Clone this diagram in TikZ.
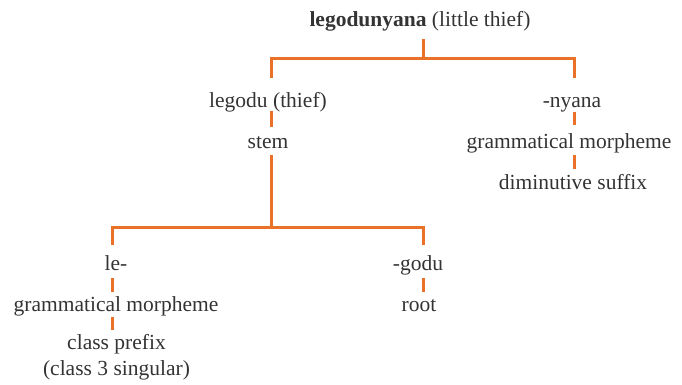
\documentclass[tikz,border=0pt]{standalone}
\usepackage{fontspec}
\setmainfont{Liberation Serif}
\definecolor{txt}{RGB}{51,51,51}
\definecolor{brk}{RGB}{234,114,40}
\begin{document}
\begin{tikzpicture}[x=1pt,y=-1pt,
  lbl/.style={anchor=base,inner sep=0pt,text=txt,font=\fontsize{21.5}{26}\selectfont},
  conn/.style={draw=brk,line width=3pt}]
\useasboundingbox (0,0) rectangle (682,385);
% column line positions
\coordinate (cT) at (423,0);
\coordinate (cA) at (271,0);
\coordinate (cN) at (574,0);
\coordinate (cL) at (112,0);
\coordinate (cG) at (423,0);
\coordinate (b1) at (423,59);
\coordinate (b2) at (271,227.5);
% labels
\node[lbl] (top) at (420,27) {\textbf{legodunyana} (little thief)};
\node[lbl] (legodu) at (268,107.5) {legodu (thief)};
\node[lbl] (stem) at (268,148.3) {stem};
\node[lbl] (nyana) at (572,107.5) {-nyana};
\node[lbl] (gmR) at (569,148.3) {grammatical morpheme};
\node[lbl] (dim) at (573,189) {diminutive suffix};
\node[lbl] (le) at (116,270) {le-};
\node[lbl] (gmL) at (116,311.7) {grammatical morpheme};
\node[lbl] (cp) at (116.5,349.7) {class prefix};
\node[lbl] (c3) at (116.5,375.5) {(class 3 singular)};
\node[lbl] (godu) at (418,270) {-godu};
\node[lbl] (root) at (419,311.7) {root};
% connectors
\draw[conn] ([yshift=-12.5pt]top.base -| cT) -- (b1);
\draw[conn] ([yshift=29.5pt]legodu.base -| cA) |- (b1) -| ([yshift=29pt]nyana.base -| cN);
\draw[conn] ([yshift=-4pt]legodu.base -| cA) -- ([yshift=21.5pt]stem.base -| cA);
\draw[conn] ([yshift=-6.5pt]stem.base -| cA) -- (b2);
\draw[conn] ([yshift=-4.5pt]nyana.base -| cN) -- ([yshift=23pt]gmR.base -| cN);
\draw[conn] ([yshift=-7pt]gmR.base -| cN) -- ([yshift=20.5pt]dim.base -| cN);
\draw[conn] ([yshift=25pt]le.base -| cL) |- (b2) -| ([yshift=25pt]godu.base -| cG);
\draw[conn] ([yshift=-8.3pt]le.base -| cL) -- ([yshift=20pt]gmL.base -| cL);
\draw[conn] ([yshift=-5pt]gmL.base -| cL) -- ([yshift=19.5pt]cp.base -| cL);
\draw[conn] ([yshift=-8.3pt]godu.base -| cG) -- ([yshift=20pt]root.base -| cG);
\end{tikzpicture}
\end{document}
